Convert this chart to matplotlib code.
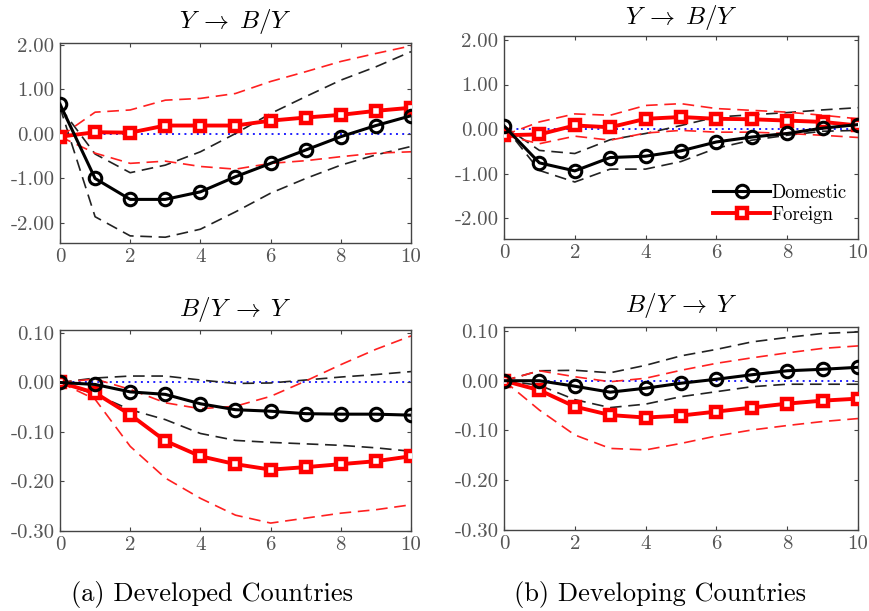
import numpy as np
import matplotlib
matplotlib.use("Agg")
import matplotlib.pyplot as plt

plt.rcParams['font.family'] = ['cmr10', 'DejaVu Serif']
plt.rcParams['mathtext.fontset'] = 'cm'
plt.rcParams['axes.unicode_minus'] = False

horizon = list(range(11))

# Developed, Y -> B/Y
dev_yb_dom = [0.67, -1.00, -1.47, -1.47, -1.30, -0.96, -0.66, -0.36, -0.06, 0.19, 0.41]
dev_yb_dom_hi = [0.60, -0.45, -0.87, -0.70, -0.40, 0.01, 0.46, 0.84, 1.21, 1.51, 1.85]
dev_yb_dom_lo = [0.60, -1.86, -2.29, -2.32, -2.14, -1.75, -1.33, -1.00, -0.70, -0.47, -0.28]
dev_yb_for = [-0.06, 0.04, 0.03, 0.19, 0.19, 0.19, 0.30, 0.37, 0.43, 0.52, 0.59]
dev_yb_for_hi = [-0.06, 0.49, 0.54, 0.76, 0.80, 0.91, 1.18, 1.40, 1.63, 1.81, 1.98]
dev_yb_for_lo = [-0.06, -0.43, -0.66, -0.61, -0.73, -0.79, -0.66, -0.60, -0.51, -0.43, -0.40]

# Developing, Y -> B/Y
dvg_yb_dom = [0.07, -0.76, -0.94, -0.64, -0.61, -0.49, -0.29, -0.18, -0.10, 0.02, 0.10]
dvg_yb_dom_hi = [0.07, -0.48, -0.55, -0.24, -0.10, 0.08, 0.27, 0.32, 0.37, 0.43, 0.48]
dvg_yb_dom_lo = [0.07, -0.93, -1.19, -0.90, -0.90, -0.73, -0.43, -0.25, -0.14, -0.05, -0.03]
dvg_yb_for = [-0.14, -0.12, 0.08, 0.04, 0.23, 0.27, 0.23, 0.22, 0.19, 0.16, 0.08]
dvg_yb_for_hi = [-0.14, 0.16, 0.34, 0.31, 0.53, 0.57, 0.46, 0.42, 0.38, 0.31, 0.23]
dvg_yb_for_lo = [-0.14, -0.33, -0.16, -0.25, -0.09, -0.03, -0.07, -0.07, -0.10, -0.14, -0.19]

# Developed, B/Y -> Y
dev_by_dom = [0.0, -0.004, -0.019, -0.024, -0.043, -0.055, -0.058, -0.063, -0.064, -0.064, -0.066]
dev_by_dom_hi = [0.0, 0.009, 0.013, 0.013, 0.005, -0.002, -0.001, 0.005, 0.011, 0.016, 0.022]
dev_by_dom_lo = [0.0, -0.024, -0.055, -0.075, -0.103, -0.117, -0.121, -0.124, -0.127, -0.132, -0.139]
dev_by_for = [0.0, -0.021, -0.065, -0.118, -0.149, -0.165, -0.176, -0.171, -0.165, -0.159, -0.149]
dev_by_for_hi = [0.0, 0.007, -0.014, -0.041, -0.053, -0.048, -0.028, 0.003, 0.036, 0.067, 0.094]
dev_by_for_lo = [0.0, -0.034, -0.129, -0.193, -0.234, -0.268, -0.284, -0.274, -0.264, -0.257, -0.247]

# Developing, B/Y -> Y
dvg_by_dom = [0.0, 0.0, -0.011, -0.023, -0.015, -0.005, 0.003, 0.012, 0.020, 0.023, 0.027]
dvg_by_dom_hi = [0.0, 0.020, 0.021, 0.016, 0.031, 0.050, 0.063, 0.078, 0.087, 0.095, 0.098]
dvg_by_dom_lo = [0.0, -0.009, -0.038, -0.054, -0.047, -0.032, -0.022, -0.012, -0.007, -0.007, -0.007]
dvg_by_for = [0.0, -0.019, -0.052, -0.069, -0.074, -0.070, -0.062, -0.054, -0.046, -0.040, -0.036]
dvg_by_for_hi = [0.0, 0.020, 0.008, -0.002, 0.005, 0.021, 0.035, 0.046, 0.056, 0.065, 0.070]
dvg_by_for_lo = [0.0, -0.059, -0.109, -0.136, -0.139, -0.126, -0.111, -0.099, -0.090, -0.082, -0.076]

top_yticks = [-2.0, -1.0, 0.0, 1.0, 2.0]
top_yticklabels = ['-2.00', '-1.00', '0.00', '1.00', '2.00']
bot_yticks = [-0.3, -0.2, -0.1, 0.0, 0.1]
bot_yticklabels = ['-0.30', '-0.20', '-0.10', '0.00', '0.10']
xticks = [0, 2, 4, 6, 8, 10]
xticklabels = ['0', '2', '4', '6', '8', '10']

title_top = r'$Y \;\rightarrow\; B/Y$'
title_bot = r'$B/Y \;\rightarrow\; Y$'
captions = ['(a) Developed Countries', '(b) Developing Countries']

fig = plt.figure(figsize=(8.7, 6.11), dpi=100)

W, H = 870.0, 611.0
def make_ax(l, r, t, b):
    return fig.add_axes([l / W, 1 - b / H, (r - l) / W, (b - t) / H])

panels = [
    (make_ax(60, 411, 43, 243), (-2.45, 2.045), top_yticks, top_yticklabels, title_top, 21,
     dev_yb_dom, dev_yb_dom_hi, dev_yb_dom_lo, dev_yb_for, dev_yb_for_hi, dev_yb_for_lo, False),
    (make_ax(504, 858, 36, 239), (-2.47, 2.09), top_yticks, top_yticklabels, title_top, 17,
     dvg_yb_dom, dvg_yb_dom_hi, dvg_yb_dom_lo, dvg_yb_for, dvg_yb_for_hi, dvg_yb_for_lo, True),
    (make_ax(60, 411, 330, 531), (-0.3, 0.106), bot_yticks, bot_yticklabels, title_bot, 309,
     dev_by_dom, dev_by_dom_hi, dev_by_dom_lo, dev_by_for, dev_by_for_hi, dev_by_for_lo, False),
    (make_ax(504, 858, 327, 530), (-0.3, 0.108), bot_yticks, bot_yticklabels, title_bot, 306,
     dvg_by_dom, dvg_by_dom_hi, dvg_by_dom_lo, dvg_by_for, dvg_by_for_hi, dvg_by_for_lo, False),
]

frame_col = '#444444'
tick_col = '#555555'
for (ax, ylim, yt, ytl, title, ty, dom, dom_hi, dom_lo, fo, fo_hi, fo_lo, leg) in panels:
    dash = (0, (7, 4))
    ax.axhline(0, color='#2020ff', linestyle=(0, (1, 2.2)), linewidth=1.4, zorder=1)
    ax.plot(horizon, dom_hi, color='#222222', linestyle=dash, linewidth=1.2, zorder=2)
    ax.plot(horizon, dom_lo, color='#222222', linestyle=dash, linewidth=1.2, zorder=2)
    ax.plot(horizon, fo_hi, color='#ff2020', linestyle=dash, linewidth=1.2, zorder=2)
    ax.plot(horizon, fo_lo, color='#ff2020', linestyle=dash, linewidth=1.2, zorder=2)
    ax.plot(horizon, dom, color='black', linewidth=2.2, marker='o', markersize=9,
            markerfacecolor='none', markeredgewidth=2.2, label='Domestic', zorder=4)
    ax.plot(horizon, fo, color='#ff0000', linewidth=2.8, marker='s', markersize=7,
            markerfacecolor='white', markeredgecolor='#ff0000', markeredgewidth=3.2,
            label='Foreign', zorder=3)
    ax.set_xlim(0, 10)
    ax.set_ylim(*ylim)
    ax.set_xticks(xticks)
    ax.set_xticklabels(xticklabels)
    ax.set_yticks(yt)
    ax.set_yticklabels(ytl)
    ax.tick_params(direction='in', length=3, width=0.8, colors=frame_col,
                   labelcolor=tick_col, labelsize=15, top=True, right=True, pad=4)
    for s in ax.spines.values():
        s.set_color(frame_col)
        s.set_linewidth(1.0)
    pos = ax.get_position()
    fig.text(pos.x0 + pos.width / 2, 1 - ty / H, title, ha='center', va='center',
             fontsize=18, color='black')
    if leg:
        ax.legend(loc='lower right', bbox_to_anchor=(1.0, 0.02), frameon=False,
                  fontsize=13.5, handlelength=3.0, handletextpad=0.1, labelspacing=0.2,
                  borderaxespad=0.2)

fig.text(212 / W, 1 - 595 / H, captions[0], ha='center', va='center', fontsize=19)
fig.text(660 / W, 1 - 595 / H, captions[1], ha='center', va='center', fontsize=19)

fig.savefig('out.png', dpi=100)
